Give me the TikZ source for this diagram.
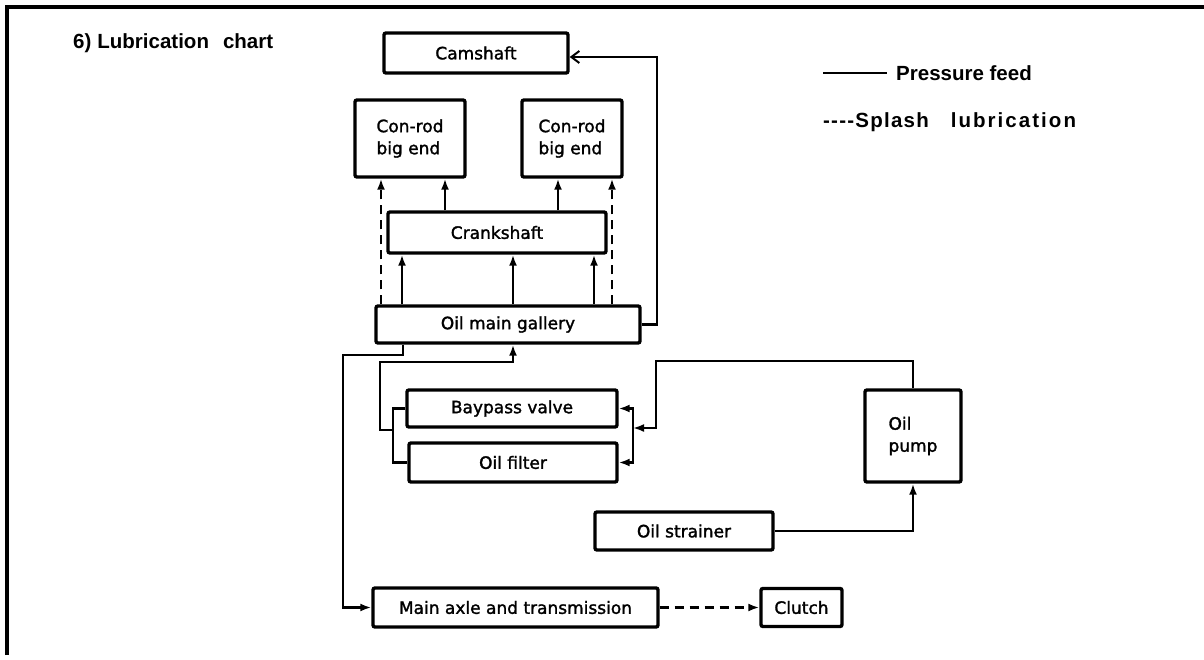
\documentclass[tikz,border=0pt]{standalone}
\usepackage{fontspec}
\setmainfont{DejaVu Sans}[FakeBold=1.6]
\newfontfamily\lblfont{Liberation Sans}
\usetikzlibrary{arrows.meta}
\begin{document}
\begin{tikzpicture}[x=1pt,y=-1pt,
  box/.style={draw,line width=3.4pt,rounded corners=2pt,inner sep=0pt,align=center,
    font=\fontsize{17}{22}\selectfont},
  conn/.style={line width=2.5pt},
  arr/.style={conn,-{Latex[length=11pt,width=8pt]}},
  openarr/.style={conn,-{Straight Barb[length=8pt,width=12pt,line width=2pt]}},
  splash/.style={dash pattern=on 9pt off 6pt},
  heading/.style={font=\lblfont\bfseries\fontsize{20.5}{24}\selectfont,inner sep=0pt,anchor=west}
]
\useasboundingbox (0,0) rectangle (1204,660);
% frame
\draw[line width=3.5pt] (7,655) -- (7,7) -- (1204,7);
% title and legend
\node[heading] (title) at (73,43) {6)\hspace{6pt}Lubrication\hspace{14pt}chart};
\coordinate (lg1) at (823,73);
\coordinate (lg2) at (887,73);
\draw[line width=2.6pt] (lg1) -- (lg2);
\node[heading] (lpf) at (896,73) {Pressure feed};
\node[heading] (lsp) at (823,122) {{\addfontfeature{LetterSpace=6}----Splash}\hspace{22pt}{\addfontfeature{LetterSpace=10}lubrication}};
% boxes
\node[box,minimum width=184pt,minimum height=40pt] (cam) at (476,53) {Camshaft};
\node[box,minimum width=110pt,minimum height=77pt,align=left] (crl) at (410,138.5) {Con-rod\\big end};
\node[box,minimum width=100pt,minimum height=77pt,align=left] (crr) at (572,138.5) {Con-rod\\big end};
\node[box,minimum width=218pt,minimum height=41pt] (crank) at (497,232.5) {Crankshaft};
\node[box,minimum width=264pt,minimum height=37pt] (gal) at (508,324.5) {Oil main gallery};
\node[box,minimum width=210pt,minimum height=37pt] (byp) at (512,408.5) {Baypass valve};
\node[box,minimum width=208pt,minimum height=39pt] (filt) at (513,462.5) {Oil filter};
\node[box,minimum width=96pt,minimum height=92pt,align=left] (pump) at (913,436) {Oil\\pump};
\node[box,minimum width=178pt,minimum height=38pt] (str) at (684,531) {Oil strainer};
\node[box,minimum width=285pt,minimum height=39pt] (axle) at (515.5,607.5) {Main axle and transmission};
\node[box,minimum width=81pt,minimum height=38pt] (clutch) at (801.5,607.5) {Clutch};
% guide coordinates
\coordinate (xa) at (381,0);
\coordinate (xb) at (445,0);
\coordinate (xc) at (558,0);
\coordinate (xd) at (612,0);
\coordinate (c1) at (402,0);
\coordinate (c2) at (513,0);
\coordinate (c3) at (594,0);
% gallery -> crankshaft
\draw[arr] (gal.north -| c1) -- (crank.south -| c1);
\draw[arr] (gal.north -| c2) -- (crank.south -| c2);
\draw[arr] (gal.north -| c3) -- (crank.south -| c3);
% crankshaft -> con-rods
\draw[arr] (crank.north -| xb) -- (crl.south -| xb);
\draw[arr] (crank.north -| xc) -- (crr.south -| xc);
% splash gallery -> con-rods
\draw[arr,splash] (gal.north -| xa) -- (crl.south -| xa);
\draw[arr,splash] (gal.north -| xd) -- (crr.south -| xd);
% gallery -> camshaft
\coordinate (camr) at (657,57);
\draw[openarr] (gal.east) -| (camr) -- (cam.east |- camr);
% gallery -> main axle
\coordinate (g1) at (403,355);
\coordinate (g2) at (343,355);
\draw[arr] (gal.south -| g1) |- (g2) |- (axle.west);
% filter / bypass -> gallery
\coordinate (fx) at (393,430);
\coordinate (fl) at (380,362);
\draw[conn] (byp.west) -| (fx) |- (filt.west);
\draw[arr] (fx) -- (fl |- fx) -- (fl) -| (gal.south -| c2);
% pump -> filter / bypass
\coordinate (rj) at (633,428);
\coordinate (pt) at (656,361);
\draw[arr] (rj) |- (byp.east);
\draw[arr] (rj) |- (filt.east);
\draw[arr] (pump.north) |- (pt) |- (rj);
% strainer -> pump
\draw[arr] (str.east) -| (pump.south);
% main axle -> clutch
\draw[arr,splash] (axle.east) -- (clutch.west);
\end{tikzpicture}
\end{document}
